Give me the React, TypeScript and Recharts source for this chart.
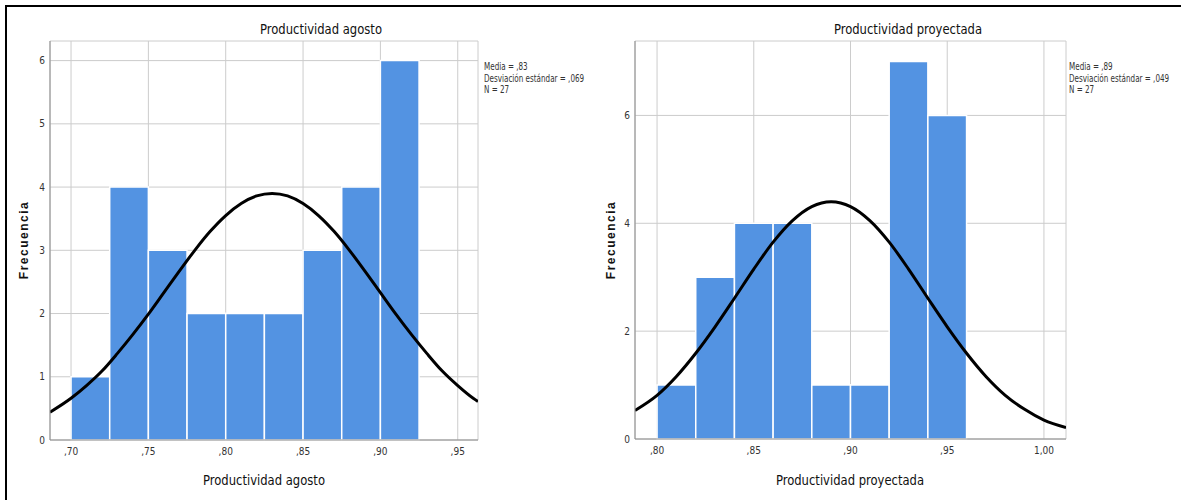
import React from 'react'
import {
  ComposedChart, Line, XAxis, YAxis, CartesianGrid, ReferenceArea,
} from 'recharts'

// Productividad agosto: histogram bins (edges) and counts
const agostoEdges = [0.700, 0.725, 0.750, 0.775, 0.800, 0.825, 0.850, 0.875, 0.900, 0.925]
const agostoCounts = [1, 4, 3, 2, 2, 2, 3, 4, 6]
const agostoXTicks = [0.70, 0.75, 0.80, 0.85, 0.90, 0.95]
const agostoYTicks = [0, 1, 2, 3, 4, 5, 6]
// normal curve
const agostoCurveX = [0.6864, 0.70, 0.71, 0.72, 0.73, 0.74, 0.75, 0.76, 0.77, 0.78, 0.79, 0.80, 0.81, 0.82, 0.83,
  0.84, 0.85, 0.86, 0.87, 0.88, 0.89, 0.90, 0.91, 0.92, 0.93, 0.94, 0.95, 0.96, 0.9631]
const agostoCurveY = [0.44, 0.66, 0.86, 1.09, 1.37, 1.67, 1.99, 2.33, 2.67, 3.00, 3.30, 3.55, 3.74, 3.86, 3.90,
  3.86, 3.74, 3.55, 3.30, 3.00, 2.67, 2.33, 1.99, 1.67, 1.37, 1.09, 0.86, 0.66, 0.61]

// Productividad proyectada
const proyEdges = [0.80, 0.82, 0.84, 0.86, 0.88, 0.90, 0.92, 0.94, 0.96]
const proyCounts = [1, 3, 4, 4, 1, 1, 7, 6]
const proyXTicks = [0.80, 0.85, 0.90, 0.95, 1.00]
const proyYTicks = [0, 2, 4, 6]
const proyCurveX = [0.7886, 0.80, 0.81, 0.82, 0.83, 0.84, 0.85, 0.86, 0.87, 0.88, 0.89,
  0.90, 0.91, 0.92, 0.93, 0.94, 0.95, 0.96, 0.97, 0.98, 0.99, 1.00, 1.0114]
const proyCurveY = [0.53, 0.81, 1.16, 1.59, 2.08, 2.61, 3.15, 3.65, 4.05, 4.31, 4.40,
  4.31, 4.05, 3.65, 3.15, 2.61, 2.08, 1.59, 1.16, 0.81, 0.55, 0.35, 0.21]

const BLUE = '#5393e2'
const GRID = '#cccccc'
const AXIS = '#8c8c8c'
const NARROW = "'Liberation Sans Narrow', 'Arial Narrow', 'DejaVu Sans Condensed', sans-serif"

const fmt = (v: number) => v.toFixed(2).replace('.', ',').replace(/^0/, '')

interface HistProps {
  edges: number[]
  counts: number[]
  curveX: number[]
  curveY: number[]
  xDomain: [number, number]
  yMax: number
  xTicks: number[]
  yTicks: number[]
  width: number
  margin: { top: number; right: number; bottom: number; left: number }
}

function Histogram({ edges, counts, curveX, curveY, xDomain, yMax, xTicks, yTicks, width, margin }: HistProps) {
  const curve = curveX.map((x, i) => ({ x, y: curveY[i] }))
  return (
    <ComposedChart width={width} height={500} data={curve} margin={margin}>
      <CartesianGrid stroke={GRID} strokeWidth={1} />
      <XAxis
        type="number"
        dataKey="x"
        domain={xDomain}
        ticks={xTicks}
        allowDataOverflow
        tickFormatter={fmt}
        tick={{ fontSize: 10, fill: '#333', fontFamily: NARROW }}
        tickLine={false}
        tickSize={0}
        tickMargin={8}
        axisLine={{ stroke: AXIS }}
        height={20}
      />
      <YAxis
        type="number"
        domain={[0, yMax]}
        ticks={yTicks}
        allowDataOverflow
        tick={{ fontSize: 10, fill: '#333', fontFamily: NARROW }}
        tickLine={false}
        tickSize={0}
        tickMargin={5}
        axisLine={{ stroke: AXIS }}
        width={30}
      />
      {counts.map((c, i) => (
        <ReferenceArea
          key={i}
          x1={edges[i]}
          x2={edges[i + 1]}
          y1={0}
          y2={c}
          fill={BLUE}
          fillOpacity={1}
          stroke="#ffffff"
          strokeWidth={1.5}
        />
      ))}
      <Line
        type="monotone"
        dataKey="y"
        stroke="#000"
        strokeWidth={3}
        dot={false}
        isAnimationActive={false}
      />
    </ComposedChart>
  )
}

const abs = (left: number, top: number): React.CSSProperties => ({ position: 'absolute', left, top })

function Stats({ left, media, sd }: { left: number; media: string; sd: string }) {
  return (
    <div style={{
      ...abs(left, 61), fontFamily: NARROW, fontSize: 10, lineHeight: '11.5px', color: '#333',
      whiteSpace: 'nowrap', transform: 'scaleX(0.8)', transformOrigin: 'left top',
    }}>
      <div>Media = {media}</div>
      <div>Desviación estándar = {sd}</div>
      <div>N = 27</div>
    </div>
  )
}

function CenterText({ x, y, text, size, bold, rotate, spacing, font, squeeze }: {
  x: number; y: number; text: string; size: number; bold?: boolean; rotate?: boolean; spacing?: number; font?: string; squeeze?: number
}) {
  return (
    <div style={{
      position: 'absolute', left: x, top: y, whiteSpace: 'nowrap',
      transform: `translate(-50%, -50%)${rotate ? ' rotate(-90deg)' : ''}${squeeze ? ` scaleX(${squeeze})` : ''}`,
      fontFamily: font ?? NARROW, fontSize: size, fontWeight: bold ? 'bold' : 'normal',
      letterSpacing: spacing ?? 0, color: '#111',
    }}>{text}</div>
  )
}

export default function App() {
  return (
    <div style={{ position: 'absolute', left: 0, top: 0, width: 1181, height: 500, background: '#fff', overflow: 'hidden' }}>
      <div style={{ position: 'absolute', left: 5, top: 5, width: 1180, height: 500, borderLeft: '2px solid #000', borderTop: '2px solid #000' }} />
      <div style={abs(0, 0)}>
        <Histogram
          edges={agostoEdges}
          counts={agostoCounts}
          curveX={agostoCurveX}
          curveY={agostoCurveY}
          xDomain={[0.6864, 0.9631]}
          yMax={6.31}
          xTicks={agostoXTicks}
          yTicks={agostoYTicks}
          width={590}
          margin={{ top: 41, right: 112, bottom: 40, left: 20 }}
        />
      </div>
      <div style={abs(590, 0)}>
        <Histogram
          edges={proyEdges}
          counts={proyCounts}
          curveX={proyCurveX}
          curveY={proyCurveY}
          xDomain={[0.7886, 1.0114]}
          yMax={7.38}
          xTicks={proyXTicks}
          yTicks={proyYTicks}
          width={591}
          margin={{ top: 41, right: 115, bottom: 41, left: 15 }}
        />
      </div>
      <CenterText x={321} y={29} text="Productividad agosto" size={14} squeeze={0.92} />
      <CenterText x={908} y={29} text="Productividad proyectada" size={14} squeeze={0.92} />
      <CenterText x={264} y={480} text="Productividad agosto" size={14} squeeze={0.92} />
      <CenterText x={850} y={480} text="Productividad proyectada" size={14} squeeze={0.92} />
      <CenterText x={24} y={240} text="Frecuencia" size={12} bold rotate spacing={1.5} font="'Liberation Sans', Arial, sans-serif" />
      <CenterText x={611} y={240} text="Frecuencia" size={12} bold rotate spacing={1.5} font="'Liberation Sans', Arial, sans-serif" />
      <Stats left={484} media=",83" sd=",069" />
      <Stats left={1069} media=",89" sd=",049" />
    </div>
  )
}
